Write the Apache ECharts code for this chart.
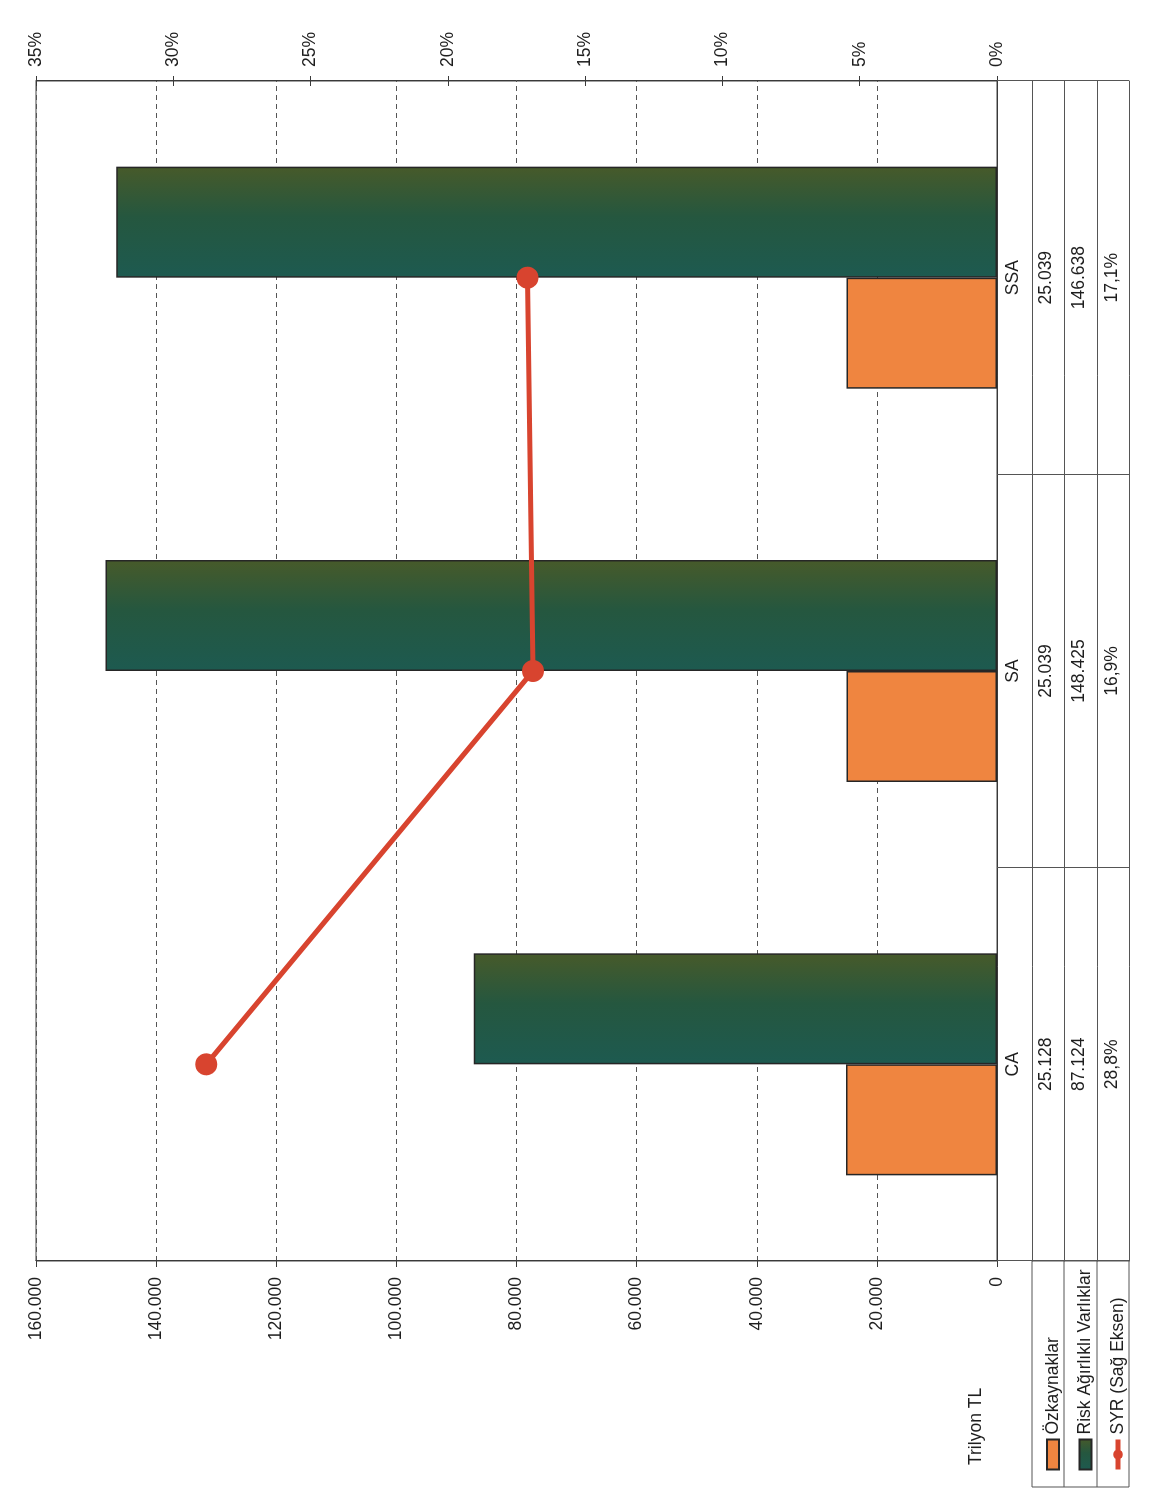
<!DOCTYPE html>
<html>
<head>
<meta charset="utf-8">
<script src="https://cdn.jsdelivr.net/npm/echarts@6/dist/echarts.min.js"></script>
<style>
html,body{margin:0;padding:0;overflow:hidden;background:#fff;width:1176px;height:1497px;}
#chart{position:absolute;left:0;top:0;width:1497px;height:1176px;transform-origin:0 0;transform:translateY(1497px) rotate(-90deg);}
</style>
</head>
<body>
<div id="chart"></div>
<script>
// ---- data ----
var categories = ['CA', 'SA', 'SSA'];
var ozkaynaklar = [25128, 25039, 25039];
var riskAgirlikli = [87124, 148425, 146638];
var syr = [28.8, 16.9, 17.1];
var leftTicks = [0, 20000, 40000, 60000, 80000, 100000, 120000, 140000, 160000];
var rightTicks = [0, 5, 10, 15, 20, 25, 30, 35];
var seriesNames = ['Özkaynaklar', 'Risk Ağırlıklı Varlıklar', 'SYR (Sağ Eksen)'];

function thou(v) { return String(v).replace(/\B(?=(\d{3})+(?!\d))/g, '.'); }
function pct(v) { return v.toFixed(1).replace('.', ',') + '%'; }

var FONT = '"Liberation Sans", Arial, sans-serif';
var TXT = '#1e1e1e';
var LINE = '#3a3a3a';
var FS = 17.5;

var chart = echarts.init(document.getElementById('chart'), null, {renderer: 'canvas'});

var tableLine = function (off) {
  return {
    type: 'category', data: categories, position: 'bottom', offset: off,
    axisLine: {show: true, onZero: false, lineStyle: {color: '#555', width: 1}},
    axisTick: {show: false}, axisLabel: {show: false}, splitLine: {show: false}
  };
};

var option = {
  animation: false,
  backgroundColor: '#fff',
  textStyle: {fontFamily: FONT},
  title: {
    text: 'Trilyon TL', left: 27, top: 962,
    textStyle: {fontFamily: FONT, fontSize: FS, fontWeight: 'normal', color: TXT}
  },
  legend: {
    orient: 'vertical', left: 20, top: 1038,
    itemWidth: 30, itemHeight: 12, itemGap: 12.5,
    textStyle: {fontFamily: FONT, fontSize: FS, color: TXT, lineHeight: 20, padding: [0, 0, 0, 0]},
    data: [
      {name: seriesNames[0], icon: 'rect'},
      {name: seriesNames[1], icon: 'rect'},
      {name: seriesNames[2], lineStyle: {width: 5}}
    ]
  },
  grid: {
    left: 236, right: 81, top: 36, bottom: 179,
    show: true, borderColor: '#444', borderWidth: 1, containLabel: false
  },
  xAxis: [
    {
      type: 'category', data: categories, position: 'bottom',
      axisLine: {show: true, onZero: false, lineStyle: {color: LINE, width: 1}},
      axisTick: {show: true, length: 132, lineStyle: {color: '#555', width: 1}},
      axisLabel: {
        margin: 0, fontFamily: FONT, fontSize: FS, color: TXT, lineHeight: 33,
        formatter: function (v, i) {
          return [v, thou(ozkaynaklar[i]), thou(riskAgirlikli[i]), pct(syr[i])].join('\n');
        }
      },
      splitLine: {show: false}
    },
    tableLine(35), tableLine(67), tableLine(100), tableLine(132)
  ],
  yAxis: [
    {
      type: 'value', position: 'left', min: leftTicks[0], max: leftTicks[leftTicks.length - 1], interval: 20000,
      axisLine: {show: true, onZero: false, lineStyle: {color: LINE, width: 1}},
      axisTick: {show: true, inside: false, length: 6, lineStyle: {color: LINE}},
      axisLabel: {margin: 16, fontFamily: FONT, fontSize: FS, color: TXT, formatter: function (v) { return thou(v); }},
      splitLine: {show: true, lineStyle: {color: '#555', width: 1, type: [5, 4]}}
    },
    {
      type: 'value', position: 'right', min: rightTicks[0], max: rightTicks[rightTicks.length - 1], interval: 5,
      axisLine: {show: true, onZero: false, lineStyle: {color: LINE, width: 1}},
      axisTick: {show: true, inside: false, length: 5, lineStyle: {color: LINE}},
      axisLabel: {margin: 14, fontFamily: FONT, fontSize: FS, color: TXT, formatter: function (v) { return v + '%'; }},
      splitLine: {show: false}
    },
    {
      type: 'value', position: 'right', min: rightTicks[0], max: rightTicks[rightTicks.length - 1], interval: 5,
      axisLine: {show: false, onZero: false},
      axisTick: {show: true, inside: true, length: 5, lineStyle: {color: LINE}},
      axisLabel: {show: false}, splitLine: {show: false}
    }
  ],
  series: [
    {
      name: seriesNames[0], type: 'bar', xAxisIndex: 0, yAxisIndex: 0,
      data: ozkaynaklar, barWidth: 111, barGap: '0%',
      itemStyle: {color: '#EF8540', borderColor: '#262626', borderWidth: 1.5}
    },
    {
      name: seriesNames[1], type: 'bar', xAxisIndex: 0, yAxisIndex: 0,
      data: riskAgirlikli, barWidth: 111, barGap: '0%',
      itemStyle: {
        color: new echarts.graphic.LinearGradient(0, 0, 1, 0, [
          {offset: 0, color: '#1d5a50'},
          {offset: 0.55, color: '#25573f'},
          {offset: 1, color: '#475a2a'}
        ]),
        borderColor: '#262626', borderWidth: 1.5
      }
    },
    {
      name: seriesNames[2], type: 'line', xAxisIndex: 0, yAxisIndex: 1,
      data: syr, symbol: 'circle', symbolSize: 22, z: 5,
      itemStyle: {color: '#D8442F'},
      lineStyle: {color: '#D8442F', width: 5}
    }
  ],
  graphic: [
    {type: 'rect', shape: {x: 10, y: 1032, width: 226, height: 97}, style: {fill: 'none', stroke: '#555', lineWidth: 1}, silent: true},
    {type: 'line', shape: {x1: 10, y1: 1064, x2: 236, y2: 1064}, style: {stroke: '#555', lineWidth: 1}, silent: true},
    {type: 'line', shape: {x1: 10, y1: 1097, x2: 236, y2: 1097}, style: {stroke: '#555', lineWidth: 1}, silent: true}
  ]
};
chart.setOption(option);
</script>
</body>
</html>
